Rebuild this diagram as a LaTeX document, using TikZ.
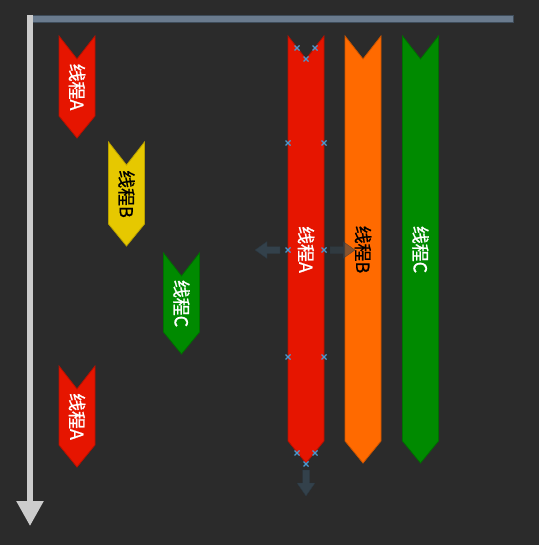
\documentclass[tikz,border=0pt]{standalone}
\usepackage{fontspec}
\newfontfamily\cjk[FakeBold=1]{Noto Sans CJK SC}
\usetikzlibrary{arrows.meta}

\definecolor{bgdark}{HTML}{2B2B2B}
\definecolor{barblue}{HTML}{6A7B8E}
\definecolor{barline}{HTML}{3E4C5A}
\definecolor{axisgray}{HTML}{CCCCCC}
\definecolor{thrred}{HTML}{E61500}
\definecolor{throrange}{HTML}{FF6A00}
\definecolor{thrgreen}{HTML}{008A00}
\definecolor{thryellow}{HTML}{E6C800}
\definecolor{hdlblue}{HTML}{4A9AD0}
\definecolor{movearrow}{HTML}{34444F}

\tikzset{
  thread/.style={font=\cjk\fontsize{18}{18}\selectfont, rotate=-90, inner sep=0pt},
  hdl/.style={draw=hdlblue, line width=1.4pt},
  mover/.style={fill=movearrow, draw=movearrow!80!black, opacity=0.9}
}

% chevron: name, left x, top y, bottom y, colour
\newcommand\chev[5]{%
  \path[fill=#5, draw=#5!80!black, line width=0.8pt]
    (#2,#3) -- ({#2+18},{#3+23}) -- ({#2+36},#3) -- ({#2+36},{#4-22})
    -- ({#2+18},#4) -- (#2,{#4-22}) -- cycle;
  \coordinate (#1) at ({#2+18},{(#3+#4)/2});
}
% selection handle
\newcommand\hdlmark[2]{%
  \draw[hdl] ({#1-2.5},{#2-2.5}) -- ({#1+2.5},{#2+2.5}) ({#1-2.5},{#2+2.5}) -- ({#1+2.5},{#2-2.5});
}

\begin{document}
\begin{tikzpicture}[x=1bp,y=-1bp]
  \fill[bgdark] (0,0) rectangle (539,545);
  \useasboundingbox (0,0) rectangle (539,545);

  % axes
  \fill[barblue, draw=barline, line width=0.8pt] (28,15.5) rectangle (513,22.5);
  \coordinate (top) at (30,15);
  \coordinate (bot) at (30,526);
  \draw[axisgray, line width=5.5pt, -{Triangle[width=26bp, length=25bp]}] (top) -- (bot);

  % short threads
  \chev{a1}{59}{36}{138}{thrred}
  \chev{b1}{108.5}{142}{246}{thryellow}
  \chev{c1}{163.5}{253}{354}{thrgreen}
  \chev{a2}{59}{366}{467}{thrred}
  \node[thread, text=white] (ta1) at (a1) {线程A};
  \node[thread, text=black] (tb1) at (b1) {线程B};
  \node[thread, text=white] (tc1) at (c1) {线程C};
  \node[thread, text=white] (ta2) at (a2) {线程A};

  % long threads
  \chev{la}{288}{36}{463}{thrred}
  \chev{lb}{345}{36}{463}{throrange}
  \chev{lc}{402.5}{36}{463}{thrgreen}

  % move arrows
  \path[mover] (280,246.5) -- (267,246.5) -- (267,241.5) -- (255,250) -- (267,258.5)
    -- (267,253.5) -- (280,253.5) -- cycle;
  \path[mover, opacity=0.6] (330,246.5) -- (343,246.5) -- (343,241.5) -- (355,250) -- (343,258.5)
    -- (343,253.5) -- (330,253.5) -- cycle;
  \path[mover] (302.5,470) -- (309.5,470) -- (309.5,483) -- (315,483) -- (306,496)
    -- (297,483) -- (302.5,483) -- cycle;

  \node[thread, text=white] (tla) at (la) {线程A};
  \node[thread, text=black] (tlb) at (lb) {线程B};
  \node[thread, text=white] (tlc) at (lc) {线程C};

  % handles
  \foreach \hx/\hy in {297/48, 315/48, 306/59, 288/143, 324/143, 288/250, 324/250,
                       288/357, 324/357, 297/453, 315/453, 306/464}
    {\hdlmark{\hx}{\hy}}
\end{tikzpicture}
\end{document}
